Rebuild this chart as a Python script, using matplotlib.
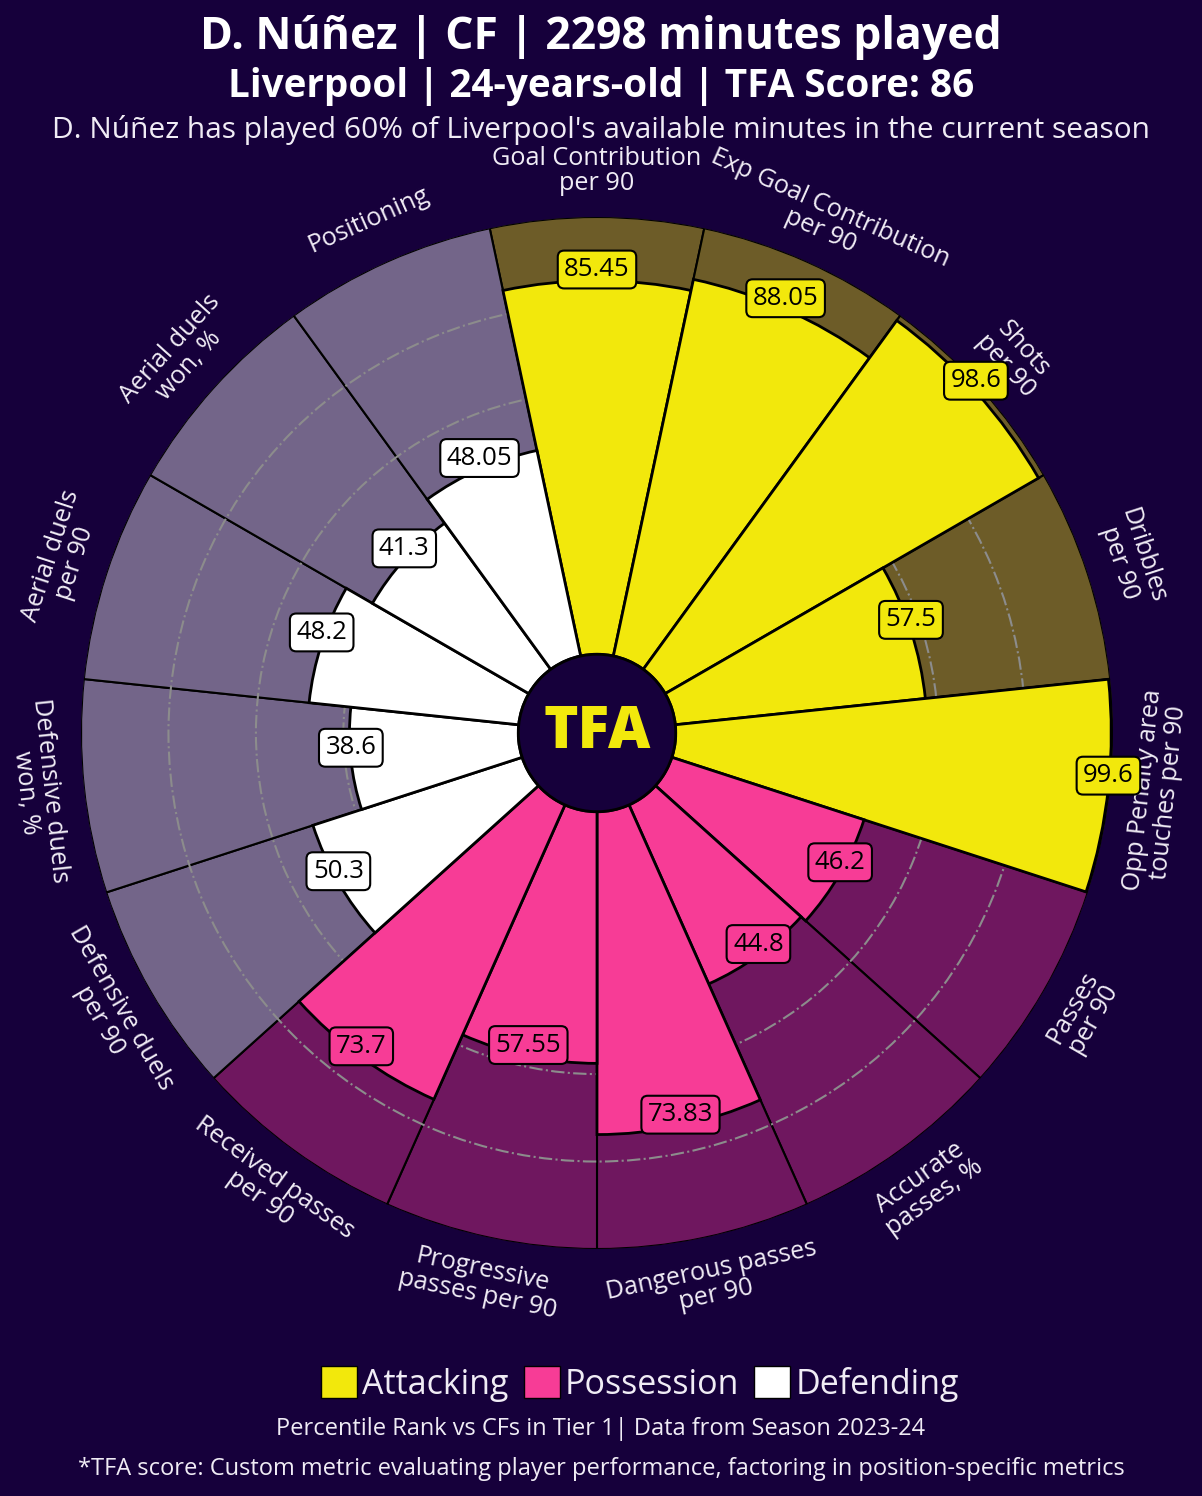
import numpy as np
import matplotlib
matplotlib.use("Agg")
import matplotlib.pyplot as plt
from matplotlib.colors import to_rgba
from matplotlib.patches import Circle, Patch

# Data
params = ["Goal Contribution\nper 90", "Exp Goal Contribution\nper 90", "Shots\nper 90",
          "Dribbles\nper 90", "Opp Penalty area\ntouches per 90",
          "Passes\nper 90", "Accurate\npasses, %", "Dangerous passes\nper 90",
          "Progressive\npasses per 90", "Received passes\nper 90",
          "Defensive duels\nper 90", "Defensive duels\nwon, %", "Aerial duels\nper 90",
          "Aerial duels\nwon, %", "Positioning"]
values = [85.45, 88.05, 98.6, 57.5, 99.6,
          46.2, 44.8, 73.83, 57.55, 73.7,
          50.3, 38.6, 48.2, 41.3, 48.05]
groups = ["Attacking"] * 5 + ["Possession"] * 5 + ["Defending"] * 5
group_names = ["Attacking", "Possession", "Defending"]
group_colors = {"Attacking": "#F2E80C", "Possession": "#F73C96", "Defending": "#FFFFFF"}

# Style
BG = "#16003B"
TXT = "#F0ECF5"
INNER = 18
plt.rcParams['font.family'] = ['Open Sans', 'DejaVu Sans']

W, H = 1202, 1496
fig = plt.figure(figsize=(W / 100, H / 100), dpi=100, facecolor=BG)

cx, cy, R = 597, 733, 516
ax = fig.add_axes([(cx - R) / W, (H - cy - R) / H, 2 * R / W, 2 * R / H],
                  projection='polar')
ax.set_facecolor(BG)
ax.set_theta_offset(np.pi / 2)
ax.set_theta_direction(-1)
ax.set_ylim(0, 100 + INNER)

n = len(values)
theta = np.arange(n) * 2 * np.pi / n
width = 2 * np.pi / n
colors = [group_colors[g] for g in groups]

# background wedges
ax.bar(theta, [100] * n, width=width, bottom=INNER,
       color=[to_rgba(c, 0.4) for c in colors], edgecolor="black", linewidth=1.5, zorder=1)
# value wedges
ax.bar(theta, values, width=width, bottom=INNER,
       color=colors, edgecolor="black", linewidth=2, zorder=3)

# grid rings
ax.set_yticks([INNER + v for v in (20, 40, 60, 80)])
ax.set_yticklabels([])
ax.set_xticks([])
ax.set_axisbelow(False)
ax.yaxis.grid(True, linestyle="-.", color="#8C8C8C", linewidth=1.5)
ax.xaxis.grid(False)
ax.spines['polar'].set_visible(False)

# value labels
for t, v, c in zip(theta, values, colors):
    ax.annotate(f"{v:g}", xy=(t, v + INNER), xytext=(0, 8), textcoords="offset points",
                ha="center", va="center", fontsize=18.5, color="black", zorder=6,
                bbox=dict(boxstyle="round,pad=0.25", facecolor=c, edgecolor="black",
                          linewidth=1.5))

# parameter labels
for t, p in zip(theta, params):
    ang = (90 - np.degrees(t) + 180) % 360 - 180
    rot = ang - 90 if ang > 0 else ang + 90
    ax.text(t, 128.5, p, ha="center", va="center", rotation=rot, rotation_mode="anchor",
            fontsize=18.2, color=TXT, linespacing=1.0, clip_on=False)

# centre logo
ax.add_patch(Circle((0.5, 0.5), INNER / (100 + INNER) / 2, transform=ax.transAxes,
                    facecolor=BG, edgecolor="black", linewidth=2, zorder=8))
ax.text(0.5, 0.5, "TFA", transform=ax.transAxes, ha="center", va="center",
        fontsize=42, fontweight="heavy", color="#F2E80C", zorder=9)

# Titles
fig.text(0.5, 1 - 37 / H, "D. Núñez | CF | 2298 minutes played", ha="center", va="center",
         fontsize=32, fontweight="bold", color="white")
fig.text(0.5, 1 - 86 / H, "Liverpool | 24-years-old | TFA Score: 86", ha="center", va="center",
         fontsize=27.8, fontweight="bold", color="white")
fig.text(0.5, 1 - 130 / H,
         "D. Núñez has played 60% of Liverpool's available minutes in the current season",
         ha="center", va="center", fontsize=21.5, color=TXT)

# Legend
handles = [Patch(facecolor=group_colors[g], edgecolor="black") for g in group_names]
leg = fig.legend(handles, group_names, loc="center", bbox_to_anchor=(640 / W, 1 - 1384 / H),
                 ncol=3, frameon=False, fontsize=24.5, handlelength=1.05, handleheight=1.05,
                 handletextpad=0.15, columnspacing=0.45, labelcolor=TXT)

fig.text(0.5, 1 - 1429 / H, "Percentile Rank vs CFs in Tier 1| Data from Season 2023-24",
         ha="center", va="center", fontsize=17, color=TXT)
fig.text(0.5, 1 - 1469 / H,
         "*TFA score: Custom metric evaluating player performance, factoring in position-specific metrics",
         ha="center", va="center", fontsize=17, color=TXT)

fig.savefig("out.png", dpi=100, facecolor=BG)
